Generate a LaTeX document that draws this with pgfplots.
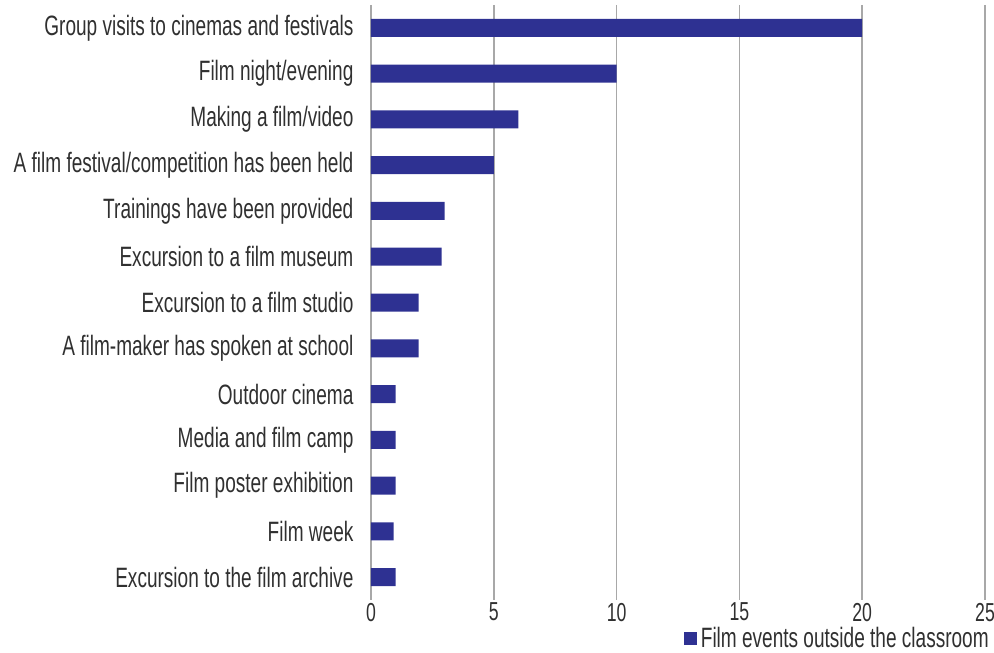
\documentclass[border=0pt]{standalone}
\usepackage{pgfplots}
\pgfplotsset{compat=1.18}
\usepackage{fontspec}
\setmainfont[FakeStretch=0.68]{Liberation Sans}
\definecolor{barblue}{HTML}{2E3192}
\definecolor{txt}{HTML}{303030}
\definecolor{gridc}{HTML}{A8A8A8}
\begin{document}
\begin{tikzpicture}
\begin{axis}[
  name=ax,
  scale only axis,
  width=307pt, height=297.5pt,
  xmin=0, xmax=25,
  ymin=-0.5, ymax=12.5,
  y dir=reverse,
  xbar, bar width=9pt,
  xtick={0,5,10,15,20,25},
  ytick={0,...,12},
  yticklabels={Group visits to cinemas and festivals,Film night/evening,Making a film/video,A film festival/competition has been held,Trainings have been provided,Excursion to a film museum,Excursion to a film studio,A film-maker has spoken at school,Outdoor cinema,Media and film camp,Film poster exhibition,Film week,Excursion to the film archive},
  xmajorgrids,
  major grid style={gridc, line width=0.8pt},
  axis line style={draw=none},
  tick style={draw=none},
  /pgf/number format/assume math mode=true,
  font=\fontsize{14pt}{16pt}\selectfont\color{txt},
  yticklabel style={font=\fontsize{14pt}{16pt}\selectfont\color{txt}, xshift=-1pt},
  xticklabel style={font=\fontsize{13pt}{15pt}\selectfont\color{txt}, yshift=2pt},
  legend style={at={(1.023,-0.031)}, anchor=north east, draw=none, fill=none,
    font=\fontsize{14pt}{16pt}\selectfont\color{txt}, legend cell align=left},
  legend image code/.code={\fill[barblue] (0pt,-3.2pt) rectangle (6.4pt,3.2pt);},
]
\addplot[fill=barblue, draw=none] coordinates {
(20,0) (10,1) (6,2) (5,3) (3,4) (2.88,5) (1.94,6) (1.94,7) (1,8) (1,9) (1,10) (0.92,11) (1,12)
};
\addlegendentry{Film events outside the classroom}
\end{axis}
\pgfresetboundingbox
\path ([xshift=-185.5pt,yshift=-26pt]ax.south west) rectangle ([xshift=4.5pt,yshift=2.5pt]ax.north east);
\end{tikzpicture}
\end{document}
